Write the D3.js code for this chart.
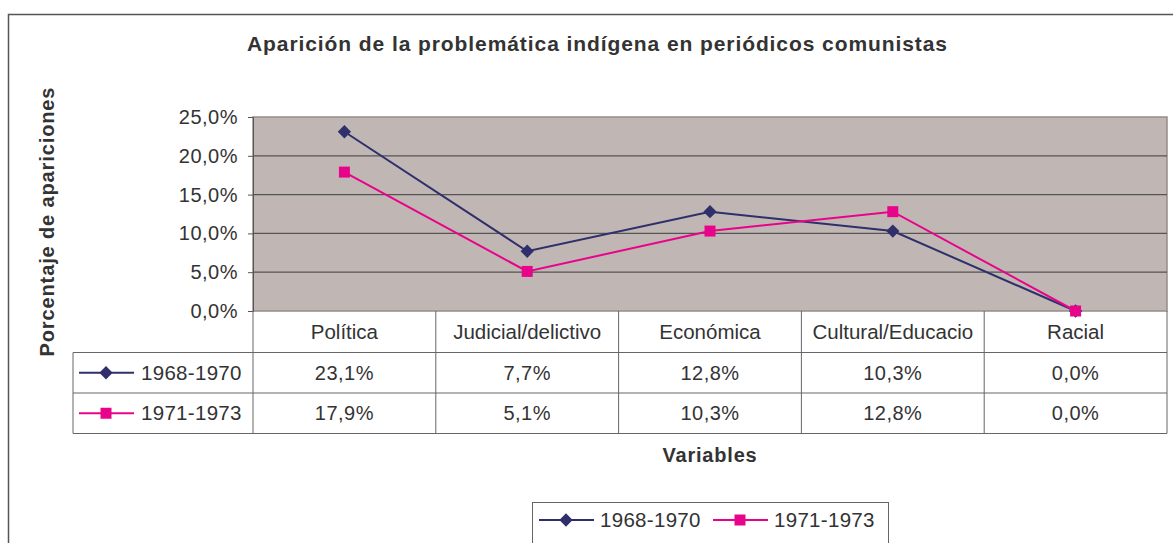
<!DOCTYPE html>
<html>
<head>
<meta charset="utf-8">
<script src="https://d3js.org/d3.v7.min.js"></script>
<style>
  body { margin: 0; background: #fff; }
  text { font-family: "Liberation Sans", Arial, sans-serif; fill: #333; }
</style>
</head>
<body>
<svg width="1173" height="543"></svg>
<script>
// chart data
const categories = ["Política", "Judicial/delictivo", "Económica", "Cultural/Educacio", "Racial"];
const seriesNames = ["1968-1970", "1971-1973"];
const values1968 = [23.1, 7.7, 12.8, 10.3, 0.0];
const values1971 = [17.9, 5.1, 10.3, 12.8, 0.0];
const yTicks = [0, 5, 10, 15, 20, 25];
const colors = ["#2f2f6b", "#e8048a"];

// diamond = square turned 45 degrees, like the spreadsheet marker
const series = [
  { name: seriesNames[0], values: values1968, color: colors[0], size: 88, rot: 45 },
  { name: seriesNames[1], values: values1971, color: colors[1], size: 121, rot: 0 }
];

const fmt = v => d3.format(".1f")(v).replace(".", ",") + "%";

const svg = d3.select("svg");
const plotLeft = 253, plotRight = 1167, plotTop = 117, plotBottom = 311;
const rowH = 40.5;

const x = d3.scaleBand().domain(categories).range([plotLeft, plotRight]);
const y = d3.scaleLinear().domain([0, 25]).range([plotBottom, plotTop]);
const cx = c => x(c) + x.bandwidth() / 2;
const marker = s => d3.symbol().type(d3.symbolSquare).size(s.size)();

// outer chart border (only top and left visible)
svg.append("path")
  .attr("d", "M8.5,545 V14.5 H1180")
  .attr("fill", "none").attr("stroke", "#555").attr("stroke-width", 1.5);

// title
svg.append("text")
  .attr("x", 597).attr("y", 51)
  .attr("text-anchor", "middle")
  .attr("font-size", 21).attr("font-weight", "bold")
  .attr("textLength", 700).attr("lengthAdjust", "spacing")
  .text("Aparición de la problemática indígena en periódicos comunistas");

// plot background
svg.append("rect")
  .attr("x", plotLeft).attr("y", plotTop)
  .attr("width", plotRight - plotLeft).attr("height", plotBottom - plotTop)
  .attr("fill", "#c0b7b4").attr("stroke", "#958c89").attr("stroke-width", 1.5);

// grid lines
svg.append("g").selectAll("line")
  .data(yTicks.filter(t => t > 0 && t < 25)).enter().append("line")
  .attr("x1", plotLeft).attr("x2", plotRight)
  .attr("y1", d => y(d)).attr("y2", d => y(d))
  .attr("stroke", "#555").attr("stroke-width", 1.2);

// y axis
const yAxis = svg.append("g")
  .attr("transform", `translate(${plotLeft},0)`)
  .call(d3.axisLeft(y).tickValues(yTicks).tickSize(5).tickPadding(10).tickFormat(fmt));
yAxis.select(".domain").attr("stroke", "#555");
yAxis.selectAll(".tick line").attr("stroke", "#555");
yAxis.selectAll("text")
  .attr("font-size", 20).attr("fill", "#333")
  .attr("font-family", "Liberation Sans, Arial, sans-serif")
  .attr("letter-spacing", 0.5);

svg.append("text")
  .attr("transform", "translate(54,222) rotate(-90)")
  .attr("text-anchor", "middle")
  .attr("font-size", 20).attr("font-weight", "bold")
  .attr("textLength", 269).attr("lengthAdjust", "spacing")
  .text("Porcentaje de apariciones");

// lines and markers
const line = d3.line()
  .x((d, i) => cx(categories[i]))
  .y(d => y(d));

series.forEach(s => {
  svg.append("path")
    .datum(s.values)
    .attr("fill", "none").attr("stroke", s.color).attr("stroke-width", 2)
    .attr("d", line);
  svg.append("g").selectAll("path")
    .data(s.values).enter().append("path")
    .attr("transform", (d, i) => `translate(${cx(categories[i])},${y(d)}) rotate(${s.rot})`)
    .attr("d", marker(s))
    .attr("fill", s.color);
});

// data table
const tbl = svg.append("g");
const tableLeft = 73;
const rows = [plotBottom, plotBottom + rowH + 1, plotBottom + 2 * rowH + 1, plotBottom + 3 * rowH + 1];
const lineColor = "#666";

[rows[1], rows[2], rows[3]].forEach(r => {
  tbl.append("line").attr("x1", tableLeft).attr("x2", plotRight).attr("y1", r).attr("y2", r).attr("stroke", lineColor);
});
categories.forEach(c => {
  tbl.append("line").attr("x1", x(c)).attr("x2", x(c)).attr("y1", plotBottom).attr("y2", rows[3]).attr("stroke", lineColor);
});
tbl.append("line").attr("x1", plotRight).attr("x2", plotRight).attr("y1", plotBottom).attr("y2", rows[3]).attr("stroke", lineColor);
tbl.append("line").attr("x1", tableLeft).attr("x2", tableLeft).attr("y1", rows[1]).attr("y2", rows[3]).attr("stroke", lineColor);

// category labels
tbl.selectAll("text.cat").data(categories).enter().append("text")
  .attr("class", "cat")
  .attr("x", d => cx(d))
  .attr("y", (rows[0] + rows[1]) / 2 + 7)
  .attr("text-anchor", "middle").attr("font-size", 20.5)
  .text(d => d);

// value rows
series.forEach((s, si) => {
  const cy = (rows[si + 1] + rows[si + 2]) / 2;
  tbl.selectAll(null).data(s.values).enter().append("text")
    .attr("x", (d, i) => cx(categories[i]))
    .attr("y", cy + 7)
    .attr("text-anchor", "middle").attr("font-size", 20).attr("letter-spacing", 0.5)
    .text(d => fmt(d));
  // legend key in table
  tbl.append("line").attr("x1", 79).attr("x2", 134).attr("y1", cy).attr("y2", cy)
    .attr("stroke", s.color).attr("stroke-width", 2);
  tbl.append("path")
    .attr("transform", `translate(106,${cy}) rotate(${s.rot})`)
    .attr("d", marker(s))
    .attr("fill", s.color);
  tbl.append("text")
    .attr("x", 141).attr("y", cy + 7)
    .attr("font-size", 20.5).attr("letter-spacing", 0.3)
    .text(s.name);
});

// x axis title
svg.append("text")
  .attr("x", (plotLeft + plotRight) / 2).attr("y", 462)
  .attr("text-anchor", "middle")
  .attr("font-size", 20).attr("font-weight", "bold").attr("letter-spacing", 0.8)
  .text("Variables");

// legend at bottom
const lg = svg.append("g");
lg.append("rect")
  .attr("x", 532.5).attr("y", 502.5).attr("width", 356).attr("height", 60)
  .attr("fill", "#fff").attr("stroke", "#666");
const legendX = [539, 713];
series.forEach((s, i) => {
  const lx = legendX[i], ly = 520;
  lg.append("line").attr("x1", lx).attr("x2", lx + 55).attr("y1", ly).attr("y2", ly)
    .attr("stroke", s.color).attr("stroke-width", 2);
  lg.append("path")
    .attr("transform", `translate(${lx + 27},${ly}) rotate(${s.rot})`)
    .attr("d", marker(s))
    .attr("fill", s.color);
  lg.append("text")
    .attr("x", lx + 61).attr("y", ly + 7)
    .attr("font-size", 20.5).attr("letter-spacing", 0.3)
    .text(s.name);
});
</script>
</body>
</html>
